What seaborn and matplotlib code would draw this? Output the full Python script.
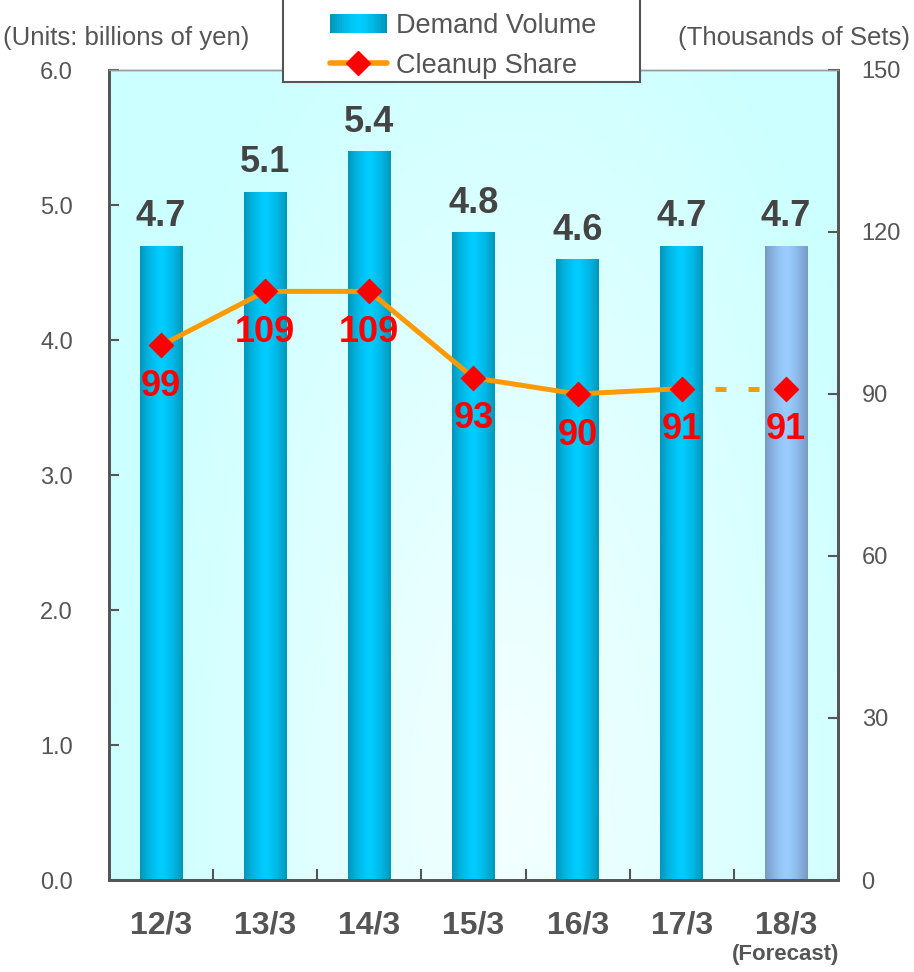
import matplotlib
matplotlib.use("Agg")
import matplotlib.pyplot as plt
import matplotlib.colors as mcolors
from matplotlib.patches import Patch, Rectangle
from matplotlib.lines import Line2D
from matplotlib.legend_handler import HandlerBase
import numpy as np
import pandas as pd
import seaborn as sns

sns.set_style("white")
plt.rcParams["font.family"] = ["Liberation Sans", "DejaVu Sans"]

periods = ["12/3", "13/3", "14/3", "15/3", "16/3", "17/3", "18/3"]
demand = [4.7, 5.1, 5.4, 4.8, 4.6, 4.7, 4.7]
share = [99, 109, 109, 93, 90, 91, 91]
forecast = [False, False, False, False, False, False, True]

GRAY = "#555555"
ORANGE = "#ff9900"
RED = "#ff0000"

df = pd.DataFrame({"period": periods, "demand": demand, "share": share,
                   "forecast": forecast})
df["pos"] = np.arange(len(df))


def gradient_colors(edge, mid, n=100):
    t = np.abs(np.linspace(-1, 1, n))
    e = np.array(mcolors.to_rgb(edge))
    m = np.array(mcolors.to_rgb(mid))
    w = np.clip(t ** 1.5, 0, 1)[:, None]
    return m * (1 - w) + e * w


class GradientHandler(HandlerBase):
    def create_artists(self, legend, orig_handle, xdescent, ydescent,
                       width, height, fontsize, trans):
        cols = gradient_colors("#0096ba", "#00ccff", 24)
        n = len(cols)
        arts = []
        for k, c in enumerate(cols):
            r = Rectangle((-xdescent + width * k / n, -ydescent), width / n + 0.3,
                          height, facecolor=c, edgecolor="none", transform=trans)
            arts.append(r)
        return arts


fig = plt.figure(figsize=(9.14, 9.72), dpi=100)
ax = fig.add_axes([109 / 914, 1 - 880 / 972, 729 / 914, 810 / 972])

# background gradient
gx, gy = np.meshgrid(np.linspace(0, 1, 300), np.linspace(0, 1, 300))
d = np.clip(np.sqrt(((gx - 0.55) / 0.55) ** 2 + ((gy - 0.1) / 1.1) ** 2), 0, 1)
c_out = np.array(mcolors.to_rgb("#ccffff"))
c_in = np.array(mcolors.to_rgb("#f4ffff"))
bg = c_in[None, None, :] * (1 - d[..., None]) + c_out[None, None, :] * d[..., None]
ax.imshow(bg, extent=[0, 1, 0, 1], transform=ax.transAxes, origin="lower",
          aspect="auto", zorder=0)

sns.barplot(data=df, x="period", y="demand", ax=ax, width=0.41,
            color="#00bbee", zorder=2)

for patch, fc in zip(ax.patches, df["forecast"]):
    x0, y0 = patch.get_x(), patch.get_y()
    w, h = patch.get_width(), patch.get_height()
    if fc:
        grad = gradient_colors("#7799c4", "#99ccff")[None, :, :]
    else:
        grad = gradient_colors("#0096ba", "#00ccff")[None, :, :]
    im = ax.imshow(grad, extent=[x0, x0 + w, y0, y0 + h], aspect="auto",
                   zorder=2, origin="lower")
    im.set_clip_path(patch)
    patch.set_facecolor("none")
    patch.set_edgecolor("none")

ax.set_xlim(-0.5, len(df) - 0.5)
ax.set_ylim(0, 6)
ax.set_yticks(np.arange(0, 6.01, 1.0))
ax.set_yticklabels([f"{v:.1f}" for v in np.arange(0, 6.01, 1.0)])
ax.set_xlabel("")
ax.set_ylabel("")

for i, v in enumerate(df["demand"]):
    ax.annotate(f"{v:.1f}", (i, v), xytext=(0, 8), textcoords="offset points",
                ha="center", va="bottom", fontsize=26, fontweight="bold",
                color="#444444", zorder=5)

ax2 = ax.twinx()
ax2.set_ylim(0, 150)
ax2.set_yticks(np.arange(0, 151, 30))

solid = df[~df["forecast"]]
dashed = df.iloc[-2:]
sns.lineplot(data=solid, x="pos", y="share", ax=ax2, color=ORANGE,
             linewidth=3.6, zorder=3)
ax2.plot(dashed["pos"], dashed["share"], color=ORANGE, linewidth=3.6,
         linestyle=(0, (2.2, 4.4)), zorder=3)
sns.scatterplot(data=df, x="pos", y="share", ax=ax2, marker="D", s=150,
                color=RED, edgecolor=RED, zorder=4)
for i, v in enumerate(df["share"]):
    ax2.annotate(f"{v}", (i, v), xytext=(0, -17), textcoords="offset points",
                 ha="center", va="top", fontsize=26, fontweight="bold",
                 color=RED, zorder=5)
ax2.set_xlim(-0.5, len(df) - 0.5)
ax2.set_xlabel("")
ax2.set_ylabel("")

# axes styling
for a in (ax, ax2):
    for side in ("left", "right", "bottom"):
        a.spines[side].set_color(GRAY)
        a.spines[side].set_linewidth(2)
    a.spines["top"].set_color("#999999")
    a.spines["top"].set_linewidth(1)

ax.tick_params(axis="y", direction="in", length=7, width=1.5, color=GRAY,
               labelsize=17, labelcolor=GRAY, pad=26, left=True)
ax2.tick_params(axis="y", direction="in", length=7, width=1.5, color=GRAY,
                labelsize=17, labelcolor=GRAY, pad=17, right=True)
ax.set_xticks(np.arange(len(df)))
ax.set_xticklabels(periods)
ax.tick_params(axis="x", length=0, labelsize=23, labelcolor=GRAY, pad=22)
for lbl in ax.get_xticklabels():
    lbl.set_fontweight("bold")
ax.set_xticks(np.arange(len(df) - 1) + 0.5, minor=True)
ax.tick_params(axis="x", which="minor", direction="in", length=8, width=1.5,
               color=GRAY, bottom=True)

ax.text(len(df) - 1, -0.55, "(Forecast)", ha="center", va="center",
        fontsize=16, fontweight="bold", color=GRAY,
        transform=ax.transData, clip_on=False)

fig.text(3 / 914, 1 - 38 / 972, "(Units: billions of yen)", ha="left",
         va="center", fontsize=18.5, color=GRAY)
fig.text(910 / 914, 1 - 38 / 972, "(Thousands of Sets)", ha="right",
         va="center", fontsize=18.5, color=GRAY)

# legend box drawn by hand, legend itself without frame
fig.patches.append(Rectangle((283 / 914, 1 - 82 / 972), 357 / 914, 84 / 972,
                             transform=fig.transFigure, facecolor="white",
                             edgecolor=GRAY, linewidth=1.5, zorder=9))
demand_handle = Patch(label="Demand Volume")
share_handle = Line2D([0], [0], color=ORANGE, linewidth=4, marker="D",
                      markersize=12, markerfacecolor=RED, markeredgecolor=RED,
                      label="Cleanup Share")
leg = fig.legend(handles=[demand_handle, share_handle], loc="upper left",
                 bbox_to_anchor=(330 / 914, 1 - 13 / 972), frameon=False,
                 fontsize=19.5, labelcolor=GRAY, borderpad=0,
                 handlelength=2.1, handleheight=0.7, handletextpad=0.35,
                 labelspacing=0.5, borderaxespad=0,
                 handler_map={Patch: GradientHandler()})
leg.set_zorder(10)

fig.savefig("out.png", dpi=100)
